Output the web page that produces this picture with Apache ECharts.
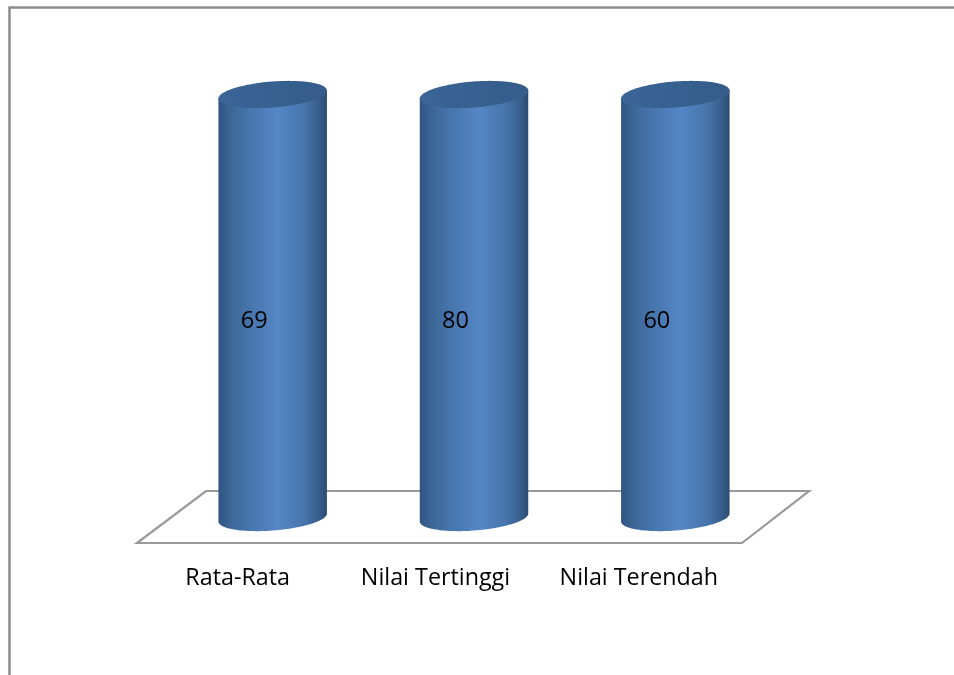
<!DOCTYPE html>
<html>
<head>
<meta charset="utf-8">
<style>html,body{margin:0;padding:0;background:#fff}#chart{width:954px;height:675px}</style>
<script src="https://cdn.jsdelivr.net/npm/echarts@6/dist/echarts.min.js"></script>
</head>
<body>
<div id="chart"></div>
<script>
// Score summary shown as 100% stacked cylinders: every column fills the plot height,
// and the label on it gives the actual score.
const categories = ['Rata-Rata', 'Nilai Tertinggi', 'Nilai Terendah'];
const scores = [69, 80, 60];

// Each column holds a single stack, so its share of the stack total is what sets the height.
const stackTotals = scores.slice();
const shares = scores.map((v, i) => v / stackTotals[i] * 100);

const FONT = '"Open Sans", Lato, sans-serif';
const GRID = { left: 137, top: 120, width: 604, height: 423 };
const DEPTH = { x: 35, y: -25.5 };  // shift from the floor's front edge to the column axis
const RADIUS = { a: 54.4, b: 13 };
const TILT = 4.46 * Math.PI / 180;
const U0 = Math.atan(RADIUS.b / RADIUS.a * Math.tan(TILT));

function ellipsePoint(cx, cy, u) {
  return [
    cx + RADIUS.a * Math.cos(u) * Math.cos(TILT) + RADIUS.b * Math.sin(u) * Math.sin(TILT),
    cy - RADIUS.a * Math.cos(u) * Math.sin(TILT) + RADIUS.b * Math.sin(u) * Math.cos(TILT)
  ];
}

function ellipseArc(cx, cy, from, to, steps) {
  const pts = [];
  for (let k = 0; k <= steps; k++) {
    pts.push(ellipsePoint(cx, cy, from + (to - from) * k / steps));
  }
  return pts;
}

const bodyFill = new echarts.graphic.LinearGradient(0, 0, 1, 0, [
  { offset: 0, color: '#2f5481' },
  { offset: 0.1, color: '#3b6595' },
  { offset: 0.3, color: '#4776ae' },
  { offset: 0.55, color: '#5587c6' },
  { offset: 0.8, color: '#4674aa' },
  { offset: 0.93, color: '#375d8b' },
  { offset: 1, color: '#2b4a72' }
]);
const capFill = new echarts.graphic.LinearGradient(0, 0, 1, 0, [
  { offset: 0, color: '#3a6596' },
  { offset: 1, color: '#355c8a' }
]);

function renderCylinder(params, api) {
  const base = api.coord([api.value(0), 0]);
  const top = api.coord([api.value(0), api.value(1)]);
  const cx = base[0] + DEPTH.x;
  const yBase = base[1] + DEPTH.y;
  const yTop = top[1] + DEPTH.y;
  // Side wall: lower rim of the base, closed along the widest chord of the cap.
  const body = ellipseArc(cx, yBase, U0, U0 + Math.PI, 60)
    .concat([ellipsePoint(cx, yTop, U0 + Math.PI), ellipsePoint(cx, yTop, U0)]);
  const cap = ellipseArc(cx, yTop, 0, 2 * Math.PI, 120);
  return {
    type: 'group',
    children: [
      { type: 'polygon', shape: { points: body }, style: { fill: bodyFill } },
      { type: 'polygon', shape: { points: cap }, style: { fill: capFill } },
      {
        type: 'text',
        style: {
          text: String(api.value(2)),
          x: base[0] + 16.5,
          y: (base[1] + top[1]) / 2 - 10,
          font: '23.5px ' + FONT,
          fill: '#000',
          align: 'center',
          verticalAlign: 'middle'
        }
      }
    ]
  };
}

// Category labels sit a little left of their band centres on the wider bands.
const labelStyle = { color: '#000', fontFamily: FONT, fontSize: 23.3 };
const labelRich = {
  c0: Object.assign({ padding: [0, 0, 0, 0] }, labelStyle),
  c1: Object.assign({ padding: [0, 7, 0, 0] }, labelStyle),
  c2: Object.assign({ padding: [0, 3, 0, 0] }, labelStyle)
};

const chart = echarts.init(document.getElementById('chart'));
chart.setOption({
  animation: false,
  backgroundColor: '#fff',
  grid: GRID,
  xAxis: {
    type: 'category',
    data: categories,
    axisLine: { show: false },
    axisTick: { show: false },
    axisLabel: {
      margin: 24,
      interval: 0,
      formatter: (value, index) => '{c' + index + '|' + value + '}',
      rich: labelRich
    }
  },
  yAxis: { type: 'value', min: 0, max: 100, show: false },
  graphic: [
    {
      type: 'rect',
      silent: true,
      shape: { x: 9.5, y: 7.5, width: 1000, height: 800 },
      style: { fill: 'none', stroke: '#8c8c8c', lineWidth: 2.5 }
    },
    {
      type: 'polygon',
      silent: true,
      shape: { points: [[137, 543], [742, 543], [809, 491], [206, 491]] },
      style: { fill: 'none', stroke: '#999999', lineWidth: 2.2 }
    }
  ],
  series: [{
    type: 'custom',
    renderItem: renderCylinder,
    coordinateSystem: 'cartesian2d',
    z: 10,
    encode: { x: 0, y: 1 },
    data: categories.map((c, i) => [i, shares[i], scores[i]])
  }]
});
</script>
</body>
</html>
